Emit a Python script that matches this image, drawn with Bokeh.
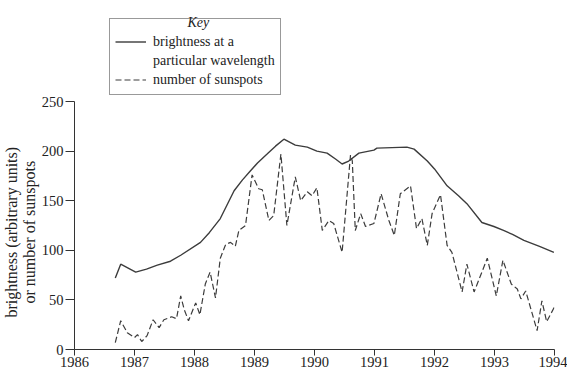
from bokeh.plotting import figure
from bokeh.models import Legend, LegendItem, Label, FixedTicker, Title
from bokeh.embed import file_html
from bokeh.resources import INLINE

# brightness at a particular wavelength (arbitrary units)
bright_year = [1986.68, 1986.77, 1987.02, 1987.2, 1987.38, 1987.6, 1987.77, 1988.10, 1988.25,
               1988.43, 1988.66, 1988.8, 1988.93, 1989.05, 1989.21, 1989.35, 1989.49, 1989.68,
               1989.88, 1990.04, 1990.21, 1990.35, 1990.46, 1990.57, 1990.74, 1990.99, 1991.04,
               1991.54, 1991.66, 1991.88, 1992.0, 1992.21, 1992.4, 1992.54, 1992.79, 1992.99,
               1993.15, 1993.3, 1993.49, 1993.75, 1993.99]
bright_val = [72, 86, 78, 81, 85, 89, 95, 108, 118,
              132, 160, 171, 180, 188, 197, 205, 212, 206,
              204, 200, 198, 192, 187, 190, 198, 201, 203,
              204, 202, 190, 182, 165, 155, 147, 128, 124,
              120, 116, 110, 104, 98]

# number of sunspots
spot_year = [1986.68, 1986.77, 1986.88, 1987.0, 1987.05, 1987.12, 1987.21, 1987.31, 1987.41,
             1987.49, 1987.62, 1987.7, 1987.77, 1987.83, 1987.9, 1988.02, 1988.09, 1988.18,
             1988.26, 1988.35, 1988.43, 1988.52, 1988.6, 1988.68, 1988.74, 1988.85, 1988.96,
             1989.07, 1989.13, 1989.24, 1989.32, 1989.44, 1989.54, 1989.68, 1989.77, 1989.88,
             1989.96, 1990.04, 1990.13, 1990.24, 1990.32, 1990.46, 1990.6, 1990.63, 1990.68,
             1990.77, 1990.85, 1990.99, 1991.11, 1991.24, 1991.33, 1991.43, 1991.6, 1991.7,
             1991.79, 1991.88, 1991.96, 1992.1, 1992.21, 1992.29, 1992.46, 1992.54, 1992.66,
             1992.88, 1993.03, 1993.14, 1993.28, 1993.38, 1993.44, 1993.52, 1993.71, 1993.79,
             1993.87, 1994.0]
spot_val = [7, 29, 17, 12, 15, 8, 14, 30, 22,
            30, 33, 31, 54, 40, 29, 47, 35, 66,
            78, 52, 92, 106, 108, 104, 120, 125, 176,
            162, 161, 130, 135, 197, 125, 174, 150, 159,
            155, 163, 120, 130, 127, 98, 196, 190, 120,
            137, 124, 127, 157, 130, 115, 157, 165, 122,
            132, 105, 137, 156, 105, 98, 58, 86, 58,
            92, 54, 90, 66, 61, 51, 59, 19, 49,
            28, 43]

x_ticks = [1986, 1987, 1988, 1989, 1990, 1991, 1992, 1993, 1994]
y_ticks = [0, 50, 100, 150, 200, 250]
y_label_outer = "brightness (arbitrary units)"
y_label_inner = "or number of sunspots"

FONT = "Liberation Serif"
INK = "#333333"
TXT = "#222222"
PX_PER_UNIT = 0.992
FRAME_H = 341

p = figure(frame_width=480, frame_height=FRAME_H,
           x_range=(1986, 1994), y_range=(0, FRAME_H / PX_PER_UNIT),
           output_backend="svg", toolbar_location=None,
           min_border_left=70, min_border_right=13, min_border_top=8, min_border_bottom=20)
p.outline_line_color = None
p.xgrid.visible = False
p.ygrid.visible = False
p.background_fill_color = "white"
p.border_fill_color = "white"

r1 = p.line(bright_year, bright_val, line_color="#3c3c3c", line_width=1.4)
r2 = p.line(spot_year, spot_val, line_color="#3c3c3c", line_width=1.2, line_dash="6 3")
# invisible renderer so the second line of the first key entry has no sample
r_blank = p.line(x=[], y=[], line_alpha=0)

xa = p.xaxis[0]
xa.ticker = FixedTicker(ticks=x_ticks)
xa.minor_tick_line_color = None
xa.major_tick_in = 0
xa.major_tick_out = 6
xa.major_label_standoff = 1
xa.axis_line_color = INK
xa.major_tick_line_color = INK
xa.major_label_text_font = FONT
xa.major_label_text_font_size = "14.5px"
xa.major_label_text_color = TXT

ya = p.yaxis[0]
ya.ticker = FixedTicker(ticks=y_ticks)
ya.bounds = (0, 250)
ya.minor_tick_line_color = None
ya.major_tick_in = 0
ya.major_tick_out = 9
ya.major_label_standoff = 2
ya.axis_line_color = INK
ya.major_tick_line_color = INK
ya.major_label_text_font = FONT
ya.major_label_text_font_size = "14.5px"
ya.major_label_text_color = TXT

# two-line y-axis title, centred on the 0-250 span (panels stack outward from the axis)
for text, off, valign in [(y_label_inner, 46, "middle"), (y_label_outer, 32, "bottom")]:
    p.add_layout(Title(text=text, align="left", offset=off, vertical_align=valign,
                       standoff=0, text_font=FONT, text_font_size="16px",
                       text_font_style="normal", text_color=TXT), "left")

legend = Legend(items=[LegendItem(label="brightness at a", renderers=[r1]),
                       LegendItem(label="particular wavelength", renderers=[r_blank]),
                       LegendItem(label="number of sunspots", renderers=[r2])],
                location=(35, 254), title=" ")
legend.title_text_font = FONT
legend.title_text_font_size = "6px"
legend.title_standoff = 2
legend.label_text_font = FONT
legend.label_text_font_size = "14px"
legend.label_height = 19
legend.label_text_color = TXT
legend.glyph_width = 31
legend.glyph_height = 19
legend.label_standoff = 7
legend.padding = 5
legend.spacing = 0
legend.margin = 0
legend.border_line_color = INK
legend.border_line_width = 1
legend.background_fill_alpha = 0
p.add_layout(legend)

key = Label(x=1988.063, y=329.5, text="Key", text_font=FONT, text_font_size="14px",
            text_font_style="italic", text_align="center", text_baseline="middle",
            text_color=TXT, level="overlay")
p.add_layout(key)

open("out.html", "w").write(file_html(p, INLINE))
